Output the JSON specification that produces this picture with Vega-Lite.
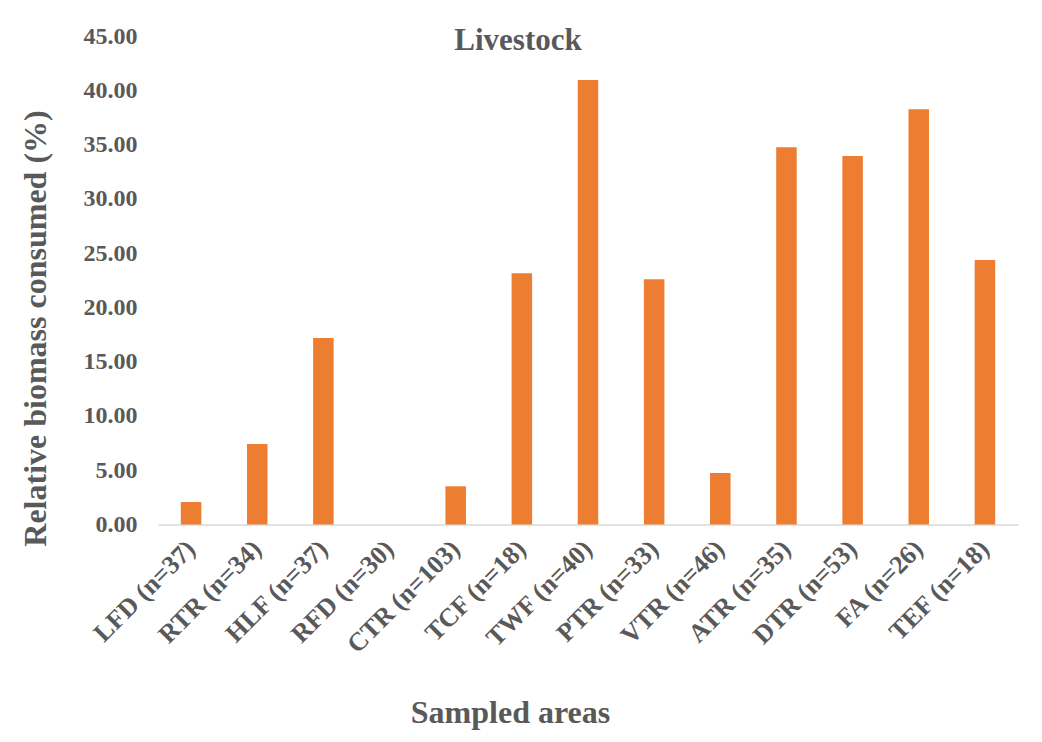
{
  "$schema": "https://vega.github.io/schema/vega-lite/v6.json",
  "autosize": {"type": "none"},
  "width": 860,
  "height": 488.5,
  "padding": {"left": 158, "top": 36, "right": 24, "bottom": 217.5},
  "background": "white",
  "title": {
    "text": "Livestock",
    "anchor": "middle",
    "frame": "group",
    "font": "Liberation Serif",
    "fontSize": 31,
    "fontWeight": "bold",
    "color": "#595959",
    "baseline": "alphabetic",
    "offset": 0,
    "dx": -70,
    "dy": 57
  },
  "data": {
    "values": [
      {"area": "LFD (n=37)", "consumed": 2.07},
      {"area": "RTR (n=34)", "consumed": 7.42},
      {"area": "HLF (n=37)", "consumed": 17.18},
      {"area": "RFD (n=30)", "consumed": 0},
      {"area": "CTR (n=103)", "consumed": 3.52},
      {"area": "TCF (n=18)", "consumed": 23.14},
      {"area": "TWF (n=40)", "consumed": 40.95},
      {"area": "PTR (n=33)", "consumed": 22.59},
      {"area": "VTR (n=46)", "consumed": 4.74},
      {"area": "ATR (n=35)", "consumed": 34.75},
      {"area": "DTR (n=53)", "consumed": 33.94},
      {"area": "FA (n=26)", "consumed": 38.25},
      {"area": "TEF (n=18)", "consumed": 24.36}
    ]
  },
  "mark": {"type": "bar", "color": "#ED7D31"},
  "encoding": {
    "x": {
      "field": "area",
      "type": "nominal",
      "sort": null,
      "scale": {"paddingInner": 0.69, "paddingOuter": 0.345},
      "axis": {
        "title": "Sampled areas",
        "titleFont": "Liberation Serif",
        "titleFontSize": 32,
        "titleFontWeight": "bold",
        "titleColor": "#595959",
        "titleAnchor": "start",
        "titleAlign": "center",
        "titleBaseline": "alphabetic",
        "titleX": 352,
        "titleY": 197.5,
        "labelFont": "Liberation Serif",
        "labelFontSize": 26,
        "labelFontWeight": "bold",
        "labelColor": "#595959",
        "labelAngle": -45,
        "labelAlign": "right",
        "labelBaseline": "middle",
        "labelPadding": 20,
        "ticks": false,
        "domainColor": "#d9d9d9",
        "domainWidth": 1.5,
        "grid": false
      }
    },
    "y": {
      "field": "consumed",
      "type": "quantitative",
      "scale": {"domain": [0, 45], "nice": false},
      "axis": {
        "title": "Relative biomass consumed (%)",
        "titleFont": "Liberation Serif",
        "titleFontSize": 32,
        "titleFontWeight": "bold",
        "titleColor": "#595959",
        "titleAngle": -90,
        "titleAnchor": "start",
        "titleAlign": "center",
        "titleBaseline": "alphabetic",
        "titleX": -113,
        "titleY": 292,
        "values": [0, 5, 10, 15, 20, 25, 30, 35, 40, 45],
        "format": ".2f",
        "labelFont": "Liberation Serif",
        "labelFontSize": 24,
        "labelFontWeight": "bold",
        "labelColor": "#595959",
        "labelPadding": 21,
        "ticks": false,
        "domain": false,
        "grid": false
      }
    }
  },
  "config": {"view": {"stroke": null}}
}
